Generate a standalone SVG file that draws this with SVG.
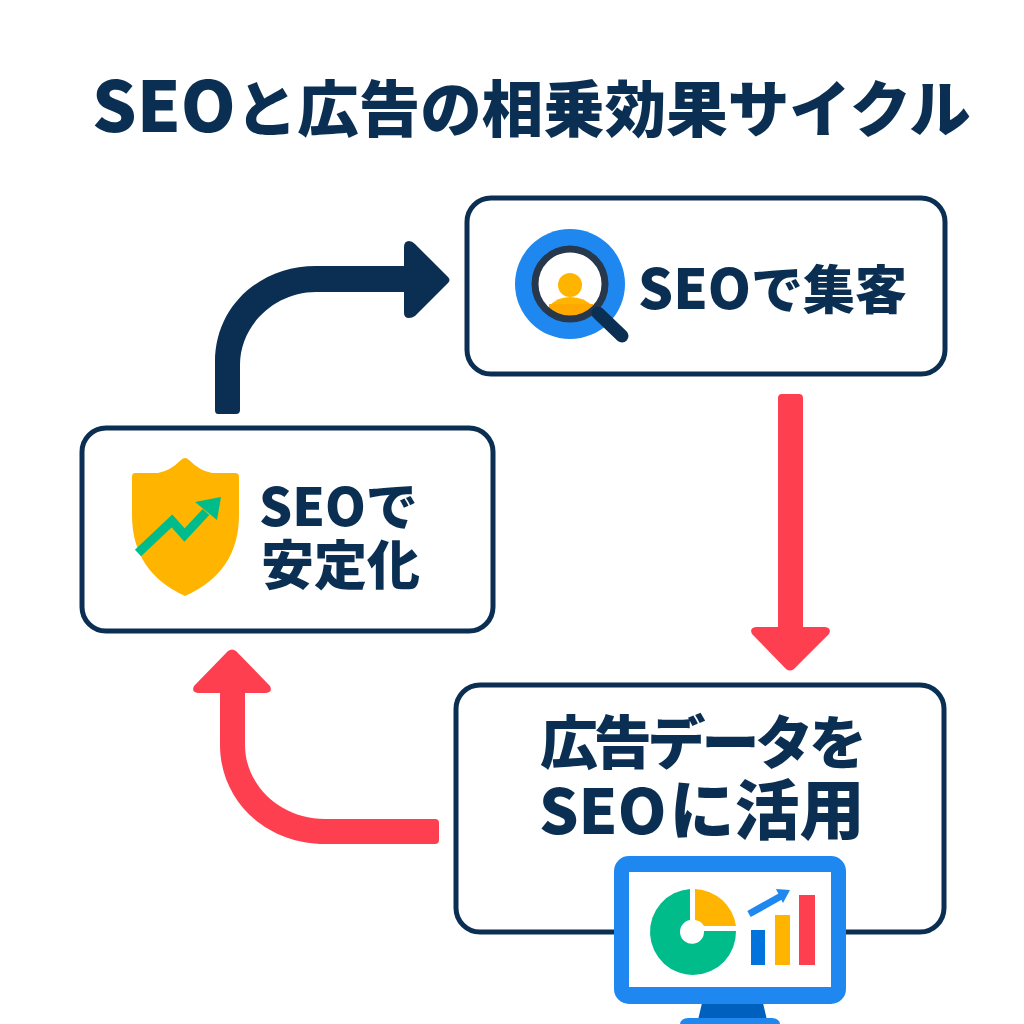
<svg xmlns="http://www.w3.org/2000/svg" width="1024" height="1024" viewBox="0 0 1024 1024">
<style>
text{font-family:"Noto Sans CJK JP","Noto Sans",sans-serif;font-weight:900;fill:#0a2f52}
.box{fill:#fff;stroke:#0a2f52;stroke-width:5}
</style>
<defs><clipPath id="lens"><circle cx="570" cy="284" r="33"/></clipPath></defs>
<rect width="1024" height="1024" fill="#fff"/>
<text id="title" x="92" y="132" font-size="61.500"><tspan font-size="70">SEO</tspan>と広告の相乗効果サイクル</text>
<g id="connectors">
<path d="M218 414Q215 414 215 410V362C215 306 260 266 316 266H404V247Q404 241 409 241Q412 241 415 244L448 277Q451 280 448 283L415 316Q412 318 409 318Q404 318 404 313V292H316C275 292 240 325 240 365V410Q240 414 236 414Z" fill="#0a2f52"/>
<path d="M782 394H799Q803 394 803 398V627H825Q832 628 829 634L794 669Q790 672 786 669L752 634Q749 628 756 627H778V398Q778 394 782 394Z" fill="#fe3f50"/>
<path d="M435 819Q439 819 439 823V840Q439 844 435 844H325C265 844 220 800 220 745V693H198Q191 692 194 686L228 651Q232 648 236 651L270 686Q273 692 266 693H245V745C245 785 280 819 325 819Z" fill="#fe3f50"/>
</g>
<g id="node-seo-traffic">
<rect class="box" x="467" y="198" width="478" height="176" rx="24"/>
<circle cx="570" cy="284" r="55" fill="#1e88f0"/>
<circle cx="570" cy="284" r="35" fill="#fff"/>
<g clip-path="url(#lens)">
<circle cx="570" cy="285" r="12" fill="#ffb400"/>
<path d="M549 307Q556 297 570 297Q585 297 593 307V320H549Z" fill="#ffb400"/>
<path d="M549 304H593V320H549Z" fill="#ffa800"/>
</g>
<circle cx="570" cy="284" r="35" fill="none" stroke="#27384d" stroke-width="7"/>
<path d="M598 313L622 336" fill="none" stroke="#0a2f52" stroke-width="13" stroke-linecap="round"/>
<text x="638" y="309" font-size="52"><tspan font-size="55">SEO</tspan>で集客</text>
</g>
<g id="node-seo-stable">
<rect class="box" x="82" y="428" width="411" height="203" rx="24"/>
<path d="M135 473H158Q170 471 181 460Q185 456 189 460Q200 471 212 473H235Q239 473 239 477V515Q239 572 185 596Q132 572 132 515V477Q132 473 135 473Z" fill="#ffb400"/>
<path d="M138 553L172 521L184.500 535L206 512" fill="none" stroke="#00bc8a" stroke-width="9"/>
<path d="M195 502L221 497L217 520Z" fill="#00bc8a"/>
<text font-size="53"><tspan x="259" y="526" font-size="52">SEOで</tspan><tspan x="261" y="585">安定化</tspan></text>
</g>
<g id="node-ad-data">
<rect class="box" x="456" y="685" width="488" height="247" rx="24"/>
<text font-size="58"><tspan x="540" y="764" letter-spacing="-4.200">広告データを</tspan><tspan x="539" y="834" font-size="62">SEO</tspan><tspan font-size="65" dx="3">に活用</tspan></text>
<path d="M702 1003H763L767 1020H698Z" fill="#0060bd"/>
<rect x="680" y="1018" width="100" height="12" rx="8" fill="#1e88f0"/>
<rect x="614" y="856" width="232" height="148" rx="15" fill="#1e88f0"/>
<rect x="629" y="872" width="202" height="115" fill="#fff"/>
<path d="M690 889V920A12 12 0 1 0 704 931H736A43 43 0 1 1 690 889Z" fill="#00bc8a"/>
<path d="M695 889A43 43 0 0 1 736 926H704A12 12 0 0 0 695 920Z" fill="#ffb400"/>
<path d="M749 914L783 895" stroke="#1e88f0" stroke-width="7" fill="none"/>
<path d="M776 889L790 890L783 903Z" fill="#1e88f0"/>
<rect x="751" y="930" width="14" height="35" fill="#0073dc"/>
<rect x="775" y="915" width="15" height="50" fill="#ffb400"/>
<rect x="799" y="895" width="16" height="70" fill="#fe3f50"/>
</g>
</svg>
